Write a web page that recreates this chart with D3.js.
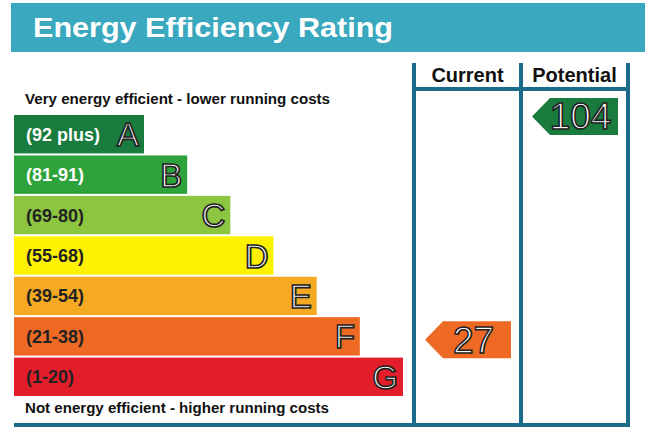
<!DOCTYPE html>
<html lang="en">
<head>
<meta charset="UTF-8">
<title>Energy Efficiency Rating</title>
<script src="https://d3js.org/d3.v7.min.js"></script>
<style>
    body { margin: 0; background: #ffffff; }
    svg { display: block; font-family: "Liberation Sans", Arial, sans-serif; }
    .band-letter { fill: #ffffff; stroke: #222222; stroke-width: 1.7px; font-size: 33px; }
    .score-label { fill: #ffffff; stroke: #222222; stroke-width: 1.6px; font-size: 37px; }
</style>
</head>
<body>
<div id="chart"></div>
<script>
    // bands, their score ranges and colours
    const bands = ["A", "B", "C", "D", "E", "F", "G"];
    const ranges = ["(92 plus)", "(81-91)", "(69-80)", "(55-68)", "(39-54)", "(21-38)", "(1-20)"];
    const bandMin = [92, 81, 69, 55, 39, 21, 1];
    const bandColors = ["#1a7b3e", "#2ea23b", "#8cc540", "#fff200", "#f6a923", "#ee6a24", "#e31e2b"];
    const rangeTextColors = ["#ffffff", "#ffffff", "#222222", "#222222", "#222222", "#222222", "#222222"];

    // the two rating columns
    const columns = ["Current", "Potential"];
    const scores = [27, 104];

    const W = 645, H = 437;
    const lineColor = "#1b6c8b";

    const svg = d3.select("#chart").append("svg")
        .attr("width", W)
        .attr("height", H);

    // title bar
    svg.append("rect")
        .attr("x", 11).attr("y", 3)
        .attr("width", W - 11).attr("height", 49)
        .attr("fill", "#3aa8be");

    svg.append("text")
        .attr("x", 33).attr("y", 37)
        .attr("fill", "#ffffff")
        .style("font-size", "28px")
        .style("font-weight", "bold")
        .attr("textLength", 360)
        .attr("lengthAdjust", "spacingAndGlyphs")
        .text("Energy Efficiency Rating");

    // scales
    const y = d3.scaleBand()
        .domain(bands)
        .range([115, 396])
        .paddingInner(0.05);

    const barEnd = d3.scaleLinear()
        .domain([0, bands.length - 1])
        .range([144, 403]);

    const xCol = d3.scaleBand()
        .domain(columns)
        .range([414, 628]);

    const yScore = d3.scaleLinear()
        .domain([0, 100])
        .range([418, 128]);

    const barLeft = 14;

    // rating bars
    const rows = svg.selectAll(".band")
        .data(bands)
        .enter()
        .append("g")
        .attr("class", "band");

    rows.append("rect")
        .attr("x", barLeft)
        .attr("y", d => y(d))
        .attr("width", (d, i) => barEnd(i) - barLeft)
        .attr("height", y.bandwidth())
        .attr("fill", (d, i) => bandColors[i]);

    rows.append("text")
        .attr("x", 26)
        .attr("y", d => y(d) + y.bandwidth() / 2 + 6.5)
        .attr("fill", (d, i) => rangeTextColors[i])
        .style("font-size", "18px")
        .style("font-weight", "bold")
        .text((d, i) => ranges[i]);

    rows.append("text")
        .attr("class", "band-letter")
        .attr("x", (d, i) => barEnd(i) - 5)
        .attr("y", d => y(d) + y.bandwidth() / 2 + 12)
        .attr("text-anchor", "end")
        .text(d => d);

    // top and bottom captions
    svg.append("text")
        .attr("x", 25).attr("y", 104)
        .attr("fill", "#111111")
        .style("font-size", "14px")
        .style("font-weight", "bold")
        .attr("textLength", 305)
        .attr("lengthAdjust", "spacingAndGlyphs")
        .text("Very energy efficient - lower running costs");

    svg.append("text")
        .attr("x", 25).attr("y", 413)
        .attr("fill", "#111111")
        .style("font-size", "14px")
        .style("font-weight", "bold")
        .attr("textLength", 304)
        .attr("lengthAdjust", "spacingAndGlyphs")
        .text("Not energy efficient - higher running costs");

    // column frame
    const colEdges = [xCol(columns[0]), xCol(columns[1]), xCol(columns[1]) + xCol.bandwidth()];
    colEdges.forEach(x => {
        svg.append("line")
            .attr("x1", x).attr("x2", x)
            .attr("y1", 63).attr("y2", 427)
            .attr("stroke", lineColor)
            .attr("stroke-width", 4);
    });

    svg.append("line")
        .attr("x1", colEdges[0]).attr("x2", colEdges[2])
        .attr("y1", 89).attr("y2", 89)
        .attr("stroke", lineColor)
        .attr("stroke-width", 4);

    svg.append("line")
        .attr("x1", barLeft).attr("x2", colEdges[2] + 2)
        .attr("y1", 425).attr("y2", 425)
        .attr("stroke", lineColor)
        .attr("stroke-width", 4);

    svg.selectAll(".col-head")
        .data(columns)
        .enter()
        .append("text")
        .attr("class", "col-head")
        .attr("x", d => xCol(d) + xCol.bandwidth() / 2)
        .attr("y", 82)
        .attr("text-anchor", "middle")
        .attr("fill", "#111111")
        .style("font-size", "20px")
        .style("font-weight", "bold")
        .text(d => d);

    // score arrows
    const bandOf = s => {
        const i = bandMin.findIndex(m => s >= m);
        return i < 0 ? bands.length - 1 : i;
    };
    const arrowH = 37;

    const arrows = svg.selectAll(".score")
        .data(columns)
        .enter()
        .append("g")
        .attr("class", "score");

    arrows.append("path")
        .attr("d", (d, i) => {
            const tip = xCol(d) + 11;
            const right = xCol(d) + xCol.bandwidth() - 10;
            const cy = yScore(scores[i]);
            const h = arrowH / 2;
            return `M${tip},${cy} L${tip + 18},${cy - h} L${right},${cy - h} L${right},${cy + h} L${tip + 18},${cy + h} Z`;
        })
        .attr("fill", (d, i) => bandColors[bandOf(scores[i])]);

    arrows.append("text")
        .attr("class", "score-label")
        .attr("x", d => xCol(d) + xCol.bandwidth() / 2 + 6)
        .attr("y", (d, i) => yScore(scores[i]) + 13)
        .attr("text-anchor", "middle")
        .text((d, i) => scores[i]);
</script>
</body>
</html>
